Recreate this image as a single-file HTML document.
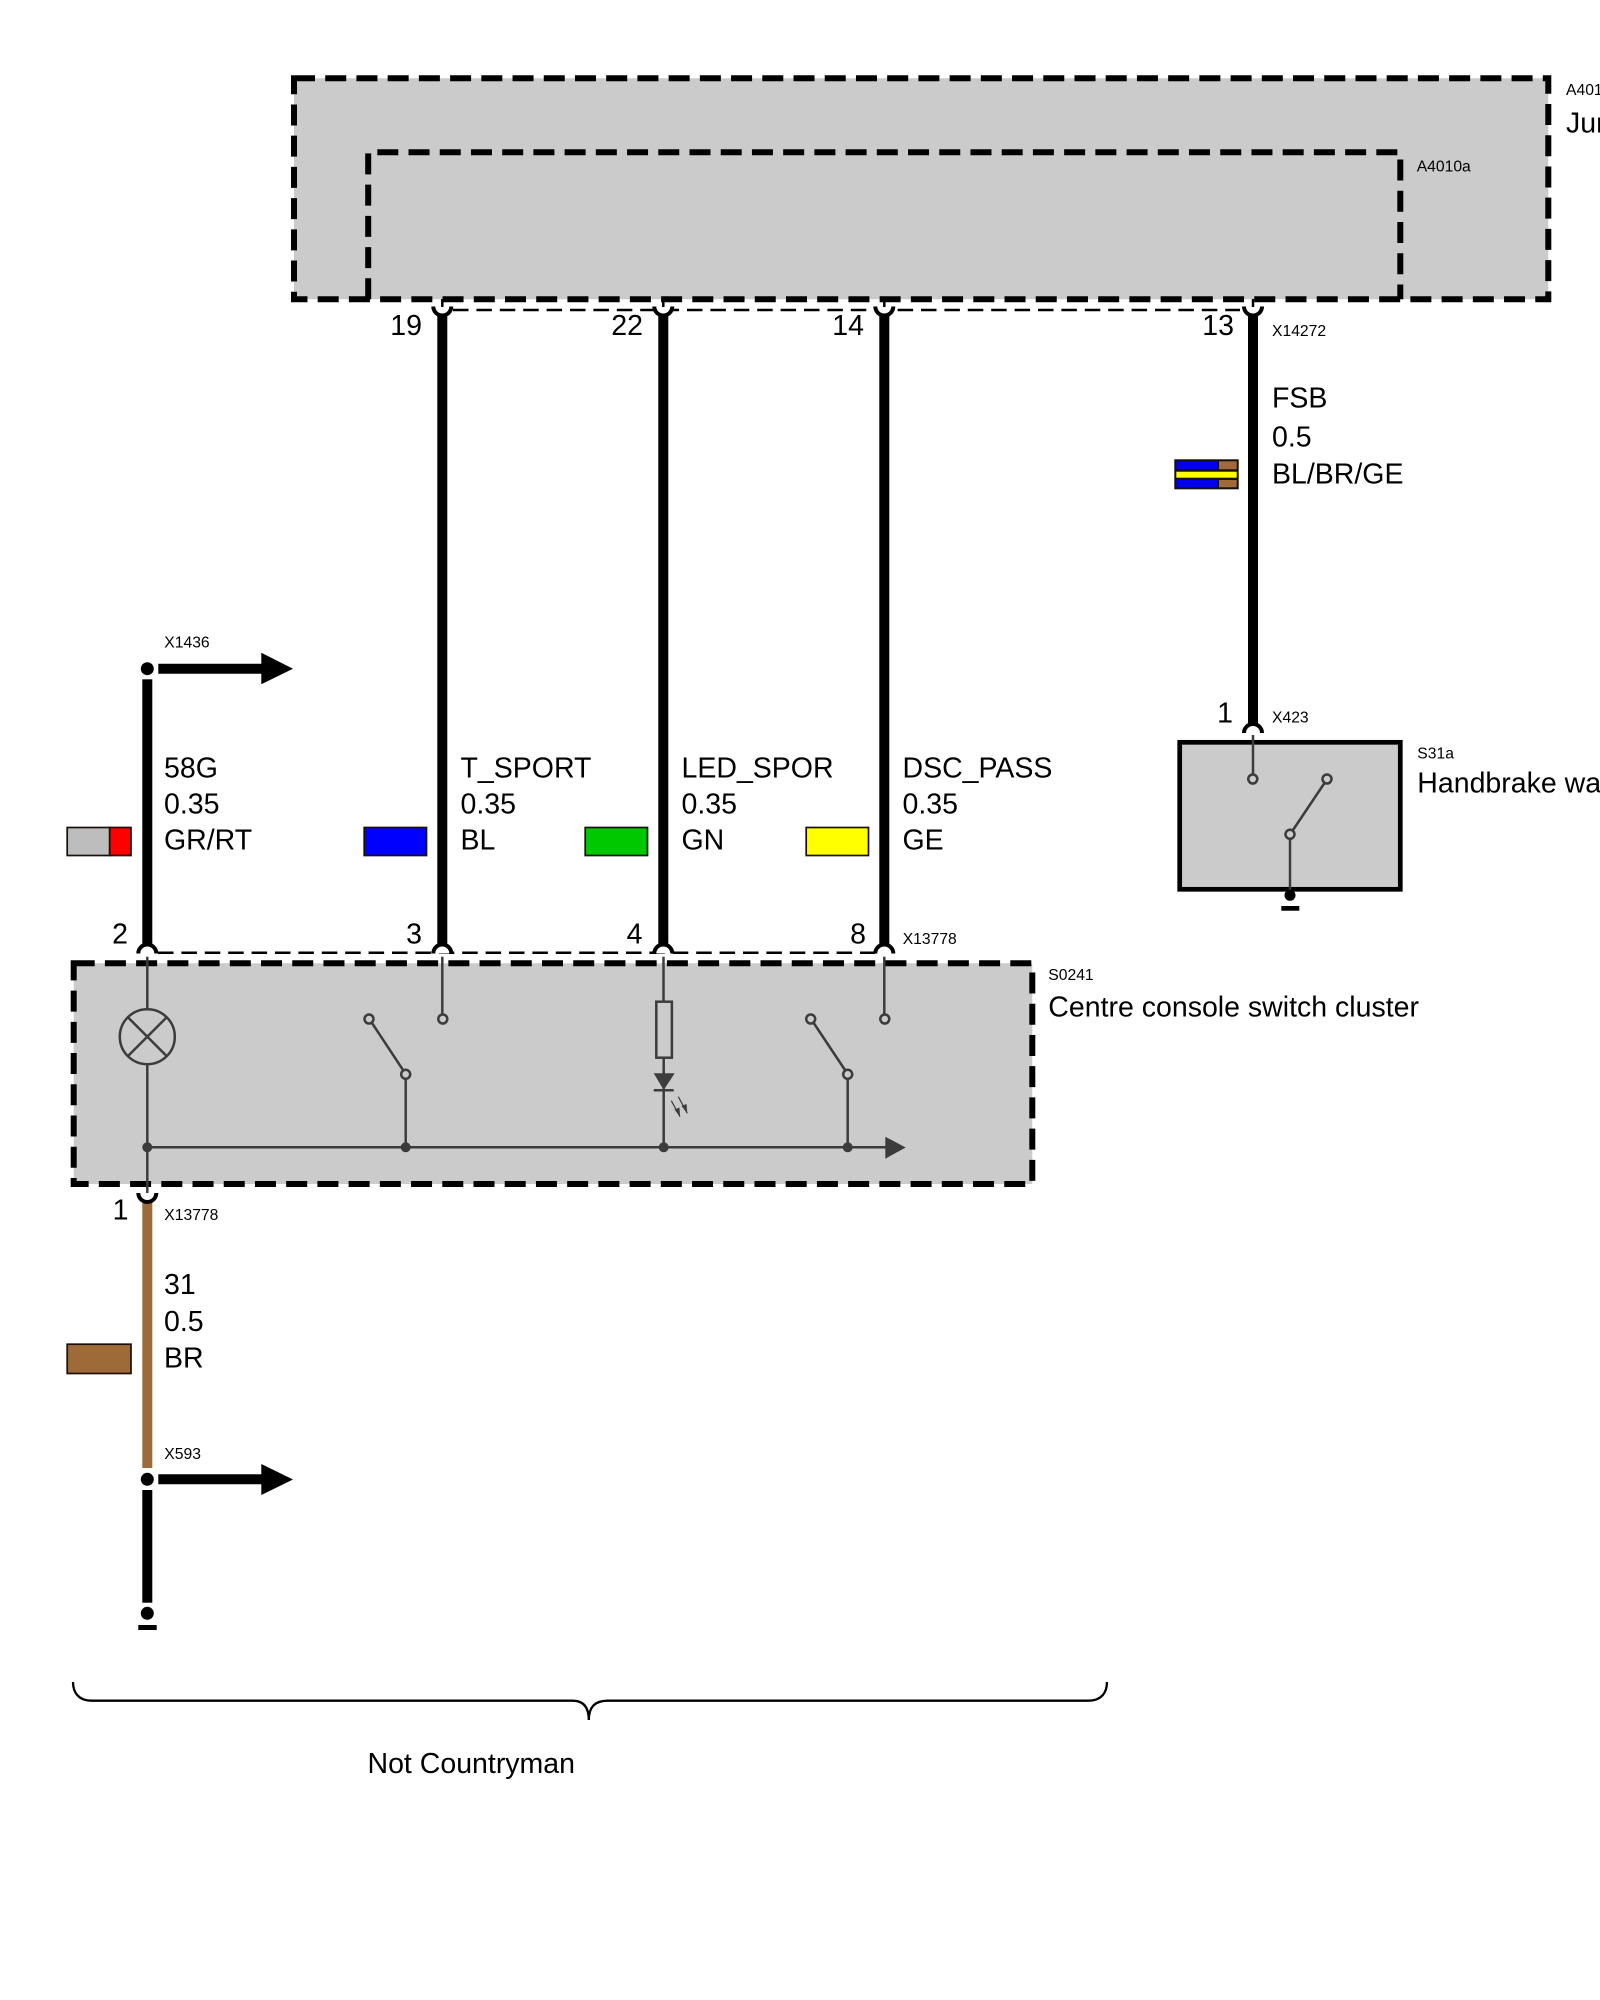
<!DOCTYPE html>
<html>
<head>
<meta charset="utf-8">
<style>
html,body{margin:0;padding:0;background:#fff;width:1600px;height:2000px;overflow:hidden}
svg{display:block}
text{font-family:"Liberation Sans",sans-serif;fill:#000}
.l{font-size:28.5px}
.s{font-size:15.7px}
.e{text-anchor:end}
</style>
</head>
<body>
<svg width="1600" height="2000" viewBox="0 0 1600 2000" xmlns="http://www.w3.org/2000/svg">
<rect width="1600" height="2000" fill="#fff"/>

<!-- Junction box -->
<path d="M294 78.3H1548.3V299.3H294Z" fill="#cbcbcb" stroke="none"/>
<path d="M294 78.3H1548.3V299.3H294Z" fill="none" stroke="#000" stroke-width="6" stroke-dasharray="21 10.22"/>
<path d="M368.2 299.3V152.3H1400.3V299.3" fill="none" stroke="#000" stroke-width="6" stroke-dasharray="21 10.22"/>

<!-- Switch cluster box -->
<path d="M73.7 963.3H1032.3V1184H73.7Z" fill="#cbcbcb" stroke="none"/>
<path d="M73.7 963.3H1032.3V1184H73.7Z" fill="none" stroke="#000" stroke-width="6" stroke-dasharray="21 10.22"/>

<!-- Thin dashed connector lines -->
<line x1="453" y1="310" x2="1240" y2="310" stroke="#000" stroke-width="2.5" stroke-dasharray="15.5 7.9"/>
<line x1="158" y1="952.7" x2="875" y2="952.7" stroke="#000" stroke-width="2.5" stroke-dasharray="15.5 7.9"/>

<!-- Wires -->
<g fill="#000" stroke="none">
<rect x="437.3" y="312" width="10" height="634"/>
<rect x="658.3" y="312" width="10" height="634"/>
<rect x="879.3" y="312" width="10" height="634"/>
<rect x="1248" y="312" width="10" height="416"/>
<rect x="142.3" y="679.3" width="10" height="267"/>
<rect x="142.3" y="1490" width="10" height="112.7"/>
</g>
<rect x="142.3" y="1198" width="10" height="270" fill="#9e6a38"/>

<!-- Connector interiors: white half discs only, so box edges stay intact -->
<g fill="#fff" stroke="none">
<path d="M433.3 306.5A9 9 0 0 0 451.3 306.5Z"/>
<path d="M654.3 306.5A9 9 0 0 0 672.3 306.5Z"/>
<path d="M875.3 306.5A9 9 0 0 0 893.3 306.5Z"/>
<path d="M1244 306.5A9 9 0 0 0 1262 306.5Z"/>
<path d="M138.3 953.5A9 9 0 0 1 156.3 953.5Z"/>
<path d="M433.3 953.5A9 9 0 0 1 451.3 953.5Z"/>
<path d="M654.3 953.5A9 9 0 0 1 672.3 953.5Z"/>
<path d="M875.3 953.5A9 9 0 0 1 893.3 953.5Z"/>
<path d="M138.3 1193A9 9 0 0 0 156.3 1193Z"/>
<path d="M1244 733A9 9 0 0 1 1262 733Z"/>
</g>
<g fill="none" stroke="#000" stroke-width="4">
<path d="M433.3 306.5A9 9 0 0 0 451.3 306.5"/>
<path d="M654.3 306.5A9 9 0 0 0 672.3 306.5"/>
<path d="M875.3 306.5A9 9 0 0 0 893.3 306.5"/>
<path d="M1244 306.5A9 9 0 0 0 1262 306.5"/>
<path d="M138.3 953.5A9 9 0 0 1 156.3 953.5"/>
<path d="M433.3 953.5A9 9 0 0 1 451.3 953.5"/>
<path d="M654.3 953.5A9 9 0 0 1 672.3 953.5"/>
<path d="M875.3 953.5A9 9 0 0 1 893.3 953.5"/>
<path d="M138.3 1193A9 9 0 0 0 156.3 1193"/>
<path d="M1244 733A9 9 0 0 1 1262 733"/>
</g>
<g stroke="#000" stroke-width="2.5">
<line x1="442.3" y1="299" x2="442.3" y2="307"/>
<line x1="663.3" y1="299" x2="663.3" y2="307"/>
<line x1="884.3" y1="299" x2="884.3" y2="307"/>
<line x1="1253" y1="299" x2="1253" y2="307"/>
</g>

<!-- Splice arrows -->
<g fill="#000">
<circle cx="147.3" cy="668.7" r="6.5"/>
<path d="M158.3 663.7H261.3V652.7L293 668.7L261.3 684.3V673.7H158.3Z"/>
<circle cx="147.3" cy="1479.3" r="6.5"/>
<path d="M158.3 1474.3H261.3V1464L293 1479.5L261.3 1495V1484.3H158.3Z"/>
<circle cx="147.3" cy="1613.3" r="6.5"/>
<rect x="138.3" y="1625" width="18.4" height="5"/>
</g>

<!-- Switch cluster internals -->
<g fill="none" stroke="#3c3c3c" stroke-width="2.5">
<line x1="147.3" y1="956.7" x2="147.3" y2="1009"/>
<circle cx="147.3" cy="1036.7" r="27.5"/>
<line x1="127.9" y1="1017.3" x2="166.7" y2="1056.1"/>
<line x1="166.7" y1="1017.3" x2="127.9" y2="1056.1"/>
<line x1="147.3" y1="1064.2" x2="147.3" y2="1193"/>
<line x1="147.3" y1="1147.3" x2="888" y2="1147.3"/>
<line x1="442.3" y1="956.7" x2="442.3" y2="1014.5"/>
<line x1="372" y1="1023" x2="403" y2="1070"/>
<line x1="405.7" y1="1079" x2="405.7" y2="1147.3"/>
<circle cx="369" cy="1019" r="4.5"/>
<circle cx="405.7" cy="1074.3" r="4.5"/>
<circle cx="442.8" cy="1019" r="4.5"/>
<line x1="884.3" y1="956.7" x2="884.3" y2="1014.5"/>
<line x1="813.7" y1="1023" x2="845" y2="1070"/>
<line x1="847.7" y1="1079" x2="847.7" y2="1147.3"/>
<circle cx="810.7" cy="1019" r="4.5"/>
<circle cx="847.7" cy="1074.3" r="4.5"/>
<circle cx="884.8" cy="1019" r="4.5"/>
<line x1="663.5" y1="956.7" x2="663.5" y2="1001.7"/>
<rect x="656.3" y="1001.7" width="15.6" height="56"/>
<line x1="663.7" y1="1057.7" x2="663.7" y2="1147.3"/>
<line x1="653.7" y1="1090.3" x2="673.7" y2="1090.3"/>
</g>
<g fill="#3c3c3c">
<circle cx="147.3" cy="1147.3" r="5"/>
<circle cx="405.7" cy="1147.3" r="5"/>
<circle cx="663.7" cy="1147.3" r="5"/>
<circle cx="847.7" cy="1147.3" r="5"/>
<path d="M885.3 1136.7L905.7 1147.5L885.3 1158.7Z"/>
<path d="M653.7 1073.3H674.7L663.7 1090Z"/>
</g>
<g stroke="#3c3c3c" stroke-width="1.2" fill="#3c3c3c">
<line x1="671.3" y1="1100.7" x2="680" y2="1116.7"/>
<line x1="678.3" y1="1096.7" x2="687.3" y2="1113.3"/>
<path d="M680 1116.7L674.5 1109.5L679.5 1107.5Z" stroke="none"/>
<path d="M687.3 1113.3L681.5 1106L686.5 1104Z" stroke="none"/>
</g>

<!-- Handbrake switch -->
<rect x="1179.7" y="742.3" width="220.6" height="147" fill="#cbcbcb" stroke="#000" stroke-width="4.7"/>
<g fill="none" stroke="#3c3c3c" stroke-width="2.5">
<line x1="1253" y1="735" x2="1253" y2="774.5"/>
<circle cx="1252.8" cy="779" r="4.5"/>
<circle cx="1327" cy="779" r="4.5"/>
<circle cx="1290" cy="834.3" r="4.5"/>
<line x1="1324.5" y1="783" x2="1292.7" y2="830.5"/>
<line x1="1290" y1="839" x2="1290" y2="892"/>
</g>
<circle cx="1290" cy="895.3" r="5.5" fill="#000"/>
<rect x="1281.3" y="906" width="18" height="4.7" fill="#000"/>

<!-- Colour swatches -->
<g stroke="#1a1008" stroke-width="1.7">
<rect x="67.2" y="827.5" width="42.5" height="28" fill="#bdbdbd"/>
<rect x="109.7" y="827.5" width="21.3" height="28" fill="#ff0000"/>
<rect x="364.2" y="827.5" width="62.3" height="28" fill="#0000ff"/>
<rect x="585.2" y="827.5" width="62.3" height="28" fill="#00c800"/>
<rect x="806.2" y="827.5" width="62.3" height="28" fill="#ffff00"/>
<rect x="67.2" y="1344.2" width="63.8" height="29.3" fill="#9e6a38"/>
</g>
<rect x="1174.3" y="459.3" width="64.4" height="30" fill="#14100a"/>
<rect x="1176.3" y="461.3" width="41" height="8" fill="#0000ee"/>
<rect x="1176.3" y="480" width="41" height="7.3" fill="#0000ee"/>
<rect x="1219" y="461.3" width="17.7" height="8" fill="#a06a3a"/>
<rect x="1219" y="480" width="17.7" height="7.3" fill="#a06a3a"/>
<rect x="1176.3" y="471.7" width="60.4" height="6" fill="#ffff00"/>

<!-- Brace -->
<path d="M73 1682C73 1692 78 1700.7 92 1700.7H572.6C584 1700.7 588.8 1708 588.8 1720C588.8 1708 594 1700.7 607.7 1700.7H1088C1102 1700.7 1107 1692 1107 1682" fill="none" stroke="#000" stroke-width="2.3"/>

<!-- Labels -->
<text class="s" x="1566" y="95">A4010</text>
<text class="l" x="1566" y="132.7">Junction box electronics</text>
<text class="s" x="1416.7" y="171.5">A4010a</text>

<text class="l e" x="422" y="335">19</text>
<text class="l e" x="643" y="335">22</text>
<text class="l e" x="864" y="335">14</text>
<text class="l e" x="1234" y="335">13</text>
<text class="s" x="1272" y="336">X14272</text>

<text class="l" x="1272" y="407.3">FSB</text>
<text class="l" x="1272" y="446.7">0.5</text>
<text class="l" x="1272" y="483.3">BL/BR/GE</text>

<text class="s" x="164.3" y="647.3">X1436</text>
<text class="l" x="164" y="777.3">58G</text>
<text class="l" x="164" y="813.5">0.35</text>
<text class="l" x="164" y="849.5">GR/RT</text>

<text class="l" x="460.5" y="777.3">T_SPORT</text>
<text class="l" x="460.5" y="813.5">0.35</text>
<text class="l" x="460.5" y="849.5">BL</text>

<text class="l" x="681.5" y="777.3">LED_SPOR</text>
<text class="l" x="681.5" y="813.5">0.35</text>
<text class="l" x="681.5" y="849.5">GN</text>

<text class="l" x="902.5" y="777.3">DSC_PASS</text>
<text class="l" x="902.5" y="813.5">0.35</text>
<text class="l" x="902.5" y="849.5">GE</text>

<text class="l e" x="1233" y="722.5">1</text>
<text class="s" x="1272" y="722.3">X423</text>
<text class="s" x="1417.3" y="758.5">S31a</text>
<text class="l" x="1417.3" y="792.5">Handbrake warning switch</text>

<text class="l e" x="128" y="943.3">2</text>
<text class="l e" x="422" y="943.3">3</text>
<text class="l e" x="642.5" y="943.3">4</text>
<text class="l e" x="866" y="943.3">8</text>
<text class="s" x="902.7" y="944">X13778</text>

<text class="s" x="1048.3" y="980">S0241</text>
<text class="l" x="1048.3" y="1016.7">Centre console switch cluster</text>

<text class="l e" x="128.5" y="1219.5">1</text>
<text class="s" x="164.3" y="1220">X13778</text>
<text class="l" x="164" y="1294">31</text>
<text class="l" x="164" y="1331.2">0.5</text>
<text class="l" x="164" y="1367.5">BR</text>
<text class="s" x="164.3" y="1458.8">X593</text>

<text class="l" x="367.5" y="1773">Not Countryman</text>
</svg>
</body>
</html>
